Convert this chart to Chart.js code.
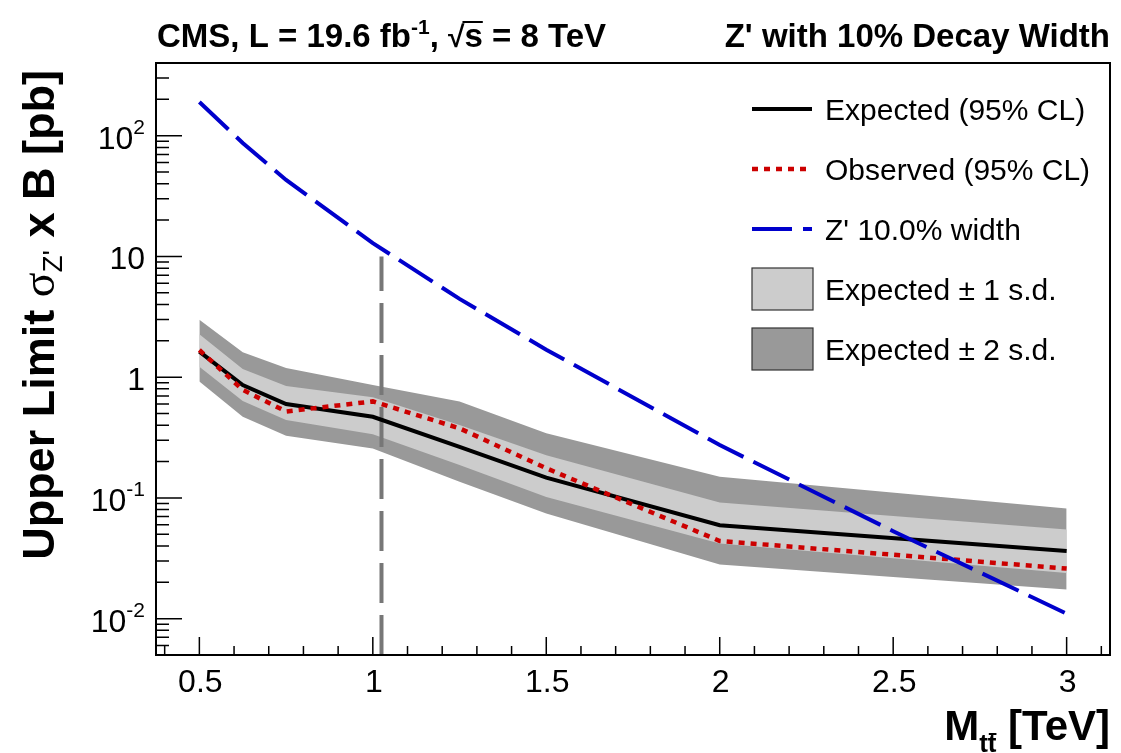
<!DOCTYPE html>
<html>
<head>
<meta charset="utf-8">
<script src="https://cdn.jsdelivr.net/npm/chart.js@4.4.0/dist/chart.umd.min.js"></script>
<style>
  body { margin: 0; background: #fff; }
  #wrap { width: 1121px; height: 753px; }
</style>
</head>
<body>
<div id="wrap"><canvas id="limitChart" width="1121" height="753"></canvas></div>
<script>
// mass points (TeV) and limits (pb)
var masses   = [0.5, 0.625, 0.75, 1.0, 1.25, 1.5, 2.0, 3.0];
var expected = [1.63, 0.86, 0.60, 0.47, 0.265, 0.147, 0.0594, 0.0364];
var observed = [1.68, 0.785, 0.52, 0.63, 0.377, 0.176, 0.044, 0.026];
var band1Lo  = [1.22, 0.636, 0.442, 0.336, 0.187, 0.102, 0.0419, 0.0239];
var band1Hi  = [2.27, 1.17, 0.847, 0.683, 0.402, 0.226, 0.0918, 0.0548];
var band2Lo  = [0.92, 0.471, 0.328, 0.257, 0.136, 0.0743, 0.0281, 0.0174];
var band2Hi  = [2.99, 1.61, 1.19, 0.863, 0.628, 0.343, 0.150, 0.0818];

// Z' 10% width theory cross section
var zpMasses = [0.5, 0.625, 0.75, 1.0, 1.25, 1.5, 2.0, 2.5, 3.0];
var zpXsec   = [190, 87, 43, 12.9, 4.45, 1.69, 0.274, 0.053, 0.011];

// exclusion marker
var limitMass = 1.025;
var limitTop = 10;

var xMin = 0.375, xMax = 3.125;
var yMin = 0.005, yMax = 400;

var xTickValues = [0.5, 1, 1.5, 2, 2.5, 3];
var xTickLabels = ['0.5', '1', '1.5', '2', '2.5', '3'];
var yTickValues = [0.01, 0.1, 1, 10, 100];
var yTickBase   = ['10', '10', '1', '10', '10'];
var yTickExp    = ['-2', '-1', '', '', '2'];

var legendLabels = ['Expected (95% CL)', 'Observed (95% CL)', "Z' 10.0% width",
                    'Expected \u00b1 1 s.d.', 'Expected \u00b1 2 s.d.'];

function pts(xs, ys) {
    return xs.map(function (x, i) { return { x: x, y: ys[i] }; });
}

var SANS = '"Liberation Sans", Arial, Helvetica, sans-serif';
var SERIF = '"Liberation Serif", "Times New Roman", serif';

function drawParts(ctx, parts, x, y, align) {
    var w = 0;
    parts.forEach(function (p) {
        ctx.font = p.font;
        p.w = ctx.measureText(p.t).width;
        w += p.w;
    });
    var cx = align === 'right' ? x - w : (align === 'center' ? x - w / 2 : x);
    parts.forEach(function (p) {
        ctx.font = p.font;
        ctx.fillText(p.t, cx, y + (p.dy || 0));
        p.x = cx;
        cx += p.w;
    });
    return parts;
}

var decorations = {
    id: 'decorations',
    afterDraw: function (chart) {
        var ctx = chart.ctx, a = chart.chartArea;
        var xs = chart.scales.x, ys = chart.scales.y;
        ctx.save();
        ctx.fillStyle = '#000';
        ctx.strokeStyle = '#000';
        ctx.textBaseline = 'alphabetic';
        ctx.textAlign = 'left';

        // frame
        ctx.lineWidth = 2;
        ctx.strokeRect(a.left, a.top, a.right - a.left, a.bottom - a.top);

        // ticks
        ctx.lineWidth = 1.5;
        ctx.beginPath();
        for (var i = 4; i <= 31; i++) {
            var px = xs.getPixelForValue(i / 10);
            var len = (i % 5 === 0) ? 18 : 9;
            ctx.moveTo(px, a.bottom);
            ctx.lineTo(px, a.bottom - len);
        }
        for (var e = -3; e <= 2; e++) {
            for (var k = 1; k <= 9; k++) {
                var v = k * Math.pow(10, e);
                if (v <= yMin * 1.001 || v >= yMax * 0.999) continue;
                var py = ys.getPixelForValue(v);
                var l2 = k === 1 ? 26 : 13;
                ctx.moveTo(a.left, py);
                ctx.lineTo(a.left + l2, py);
            }
        }
        ctx.stroke();

        // tick labels
        ctx.font = '32px ' + SANS;
        ctx.textAlign = 'center';
        xTickValues.forEach(function (v, i) {
            ctx.fillText(xTickLabels[i], xs.getPixelForValue(v) + 1, a.bottom + 37);
        });
        ctx.textAlign = 'left';
        yTickValues.forEach(function (v, i) {
            var py = ys.getPixelForValue(v) + 13;
            var parts = [{ t: yTickBase[i], font: '32px ' + SANS }];
            if (yTickExp[i]) parts.push({ t: yTickExp[i], font: '21px ' + SANS, dy: -15 });
            drawParts(ctx, parts, a.left - 11, py, 'right');
        });

        // top titles
        var tp = drawParts(ctx, [
            { t: 'CMS, L = 19.6 fb', font: 'bold 33px ' + SANS },
            { t: '-1', font: 'bold 21px ' + SANS, dy: -13 },
            { t: ', ', font: 'bold 33px ' + SANS },
            { t: '\u221a', font: 'bold 30px ' + SANS },
            { t: 's', font: 'bold 33px ' + SANS },
            { t: ' = 8 TeV', font: 'bold 33px ' + SANS }
        ], a.left + 1, 47, 'left');
        ctx.lineWidth = 2;
        ctx.beginPath();
        ctx.moveTo(tp[3].x + tp[3].w - 2, 22);
        ctx.lineTo(tp[4].x + tp[4].w, 22);
        ctx.stroke();

        drawParts(ctx, [{ t: "Z' with 10% Decay Width", font: 'bold 33px ' + SANS }], a.right, 47, 'right');

        // x title
        var xt = drawParts(ctx, [
            { t: 'M', font: 'bold 42px ' + SANS },
            { t: 'tt', font: 'bold 26px ' + SANS, dy: 12 },
            { t: ' [TeV]', font: 'bold 42px ' + SANS }
        ], a.right, 740, 'right');
        ctx.font = 'bold 26px ' + SANS;
        var tw = ctx.measureText('t').width;
        ctx.lineWidth = 2;
        ctx.beginPath();
        ctx.moveTo(xt[1].x + tw + 1, 734);
        ctx.lineTo(xt[1].x + 2 * tw, 734);
        ctx.stroke();

        // y title
        ctx.save();
        ctx.translate(54, 315);
        ctx.rotate(-Math.PI / 2);
        drawParts(ctx, [
            { t: 'Upper Limit ', font: 'bold 45px ' + SANS },
            { t: '\u03c3', font: '46px ' + SERIF },
            { t: "Z'", font: '28px ' + SANS, dy: 8 },
            { t: ' x B [pb]', font: 'bold 45px ' + SANS }
        ], 0, 0, 'center');
        ctx.restore();

        // legend
        var ds = chart.data.datasets;
        var lx0 = 752, lx1 = 812, tx = 825;
        var rows = [109, 169, 229, 289, 349];
        var lineSets = [ds[5], ds[6], ds[7]];
        ctx.font = '30px ' + SANS;
        ctx.textAlign = 'left';
        lineSets.forEach(function (d, i) {
            ctx.save();
            ctx.strokeStyle = d.borderColor;
            ctx.lineWidth = d.borderWidth;
            ctx.setLineDash(d.borderDash || []);
            ctx.beginPath();
            ctx.moveTo(lx0, rows[i]);
            ctx.lineTo(lx1, rows[i]);
            ctx.stroke();
            ctx.restore();
        });
        var boxSets = [ds[3], ds[1]];
        boxSets.forEach(function (d, j) {
            var cy = rows[3 + j];
            ctx.fillStyle = d.backgroundColor;
            ctx.fillRect(lx0, cy - 21, lx1 - lx0 + 1, 42);
            ctx.strokeStyle = '#333';
            ctx.lineWidth = 1.2;
            ctx.strokeRect(lx0, cy - 21, lx1 - lx0 + 1, 42);
        });
        ctx.fillStyle = '#000';
        legendLabels.forEach(function (t, i) {
            ctx.fillText(t, tx, rows[i] + 11);
        });

        ctx.restore();
    }
};

var noLine = { borderWidth: 0, borderColor: 'rgba(0,0,0,0)', pointRadius: 0, tension: 0 };

new Chart(document.getElementById('limitChart'), {
    type: 'line',
    data: {
        datasets: [
            Object.assign({ data: pts(masses, band2Lo), fill: false, order: 10 }, noLine),
            Object.assign({ data: pts(masses, band2Hi), fill: 0, backgroundColor: '#999999', order: 10 }, noLine),
            Object.assign({ data: pts(masses, band1Lo), fill: false, order: 9 }, noLine),
            Object.assign({ data: pts(masses, band1Hi), fill: 2, backgroundColor: '#cccccc', order: 9 }, noLine),
            {
                data: [{ x: limitMass, y: yMin }, { x: limitMass, y: limitTop }],
                borderColor: '#777777', borderWidth: 4, borderDash: [40, 12],
                pointRadius: 0, fill: false, order: 5
            },
            {
                data: pts(masses, expected),
                borderColor: '#000000', borderWidth: 4, pointRadius: 0, tension: 0, fill: false, order: 4
            },
            {
                data: pts(masses, observed),
                borderColor: '#cc0000', borderWidth: 4.5, borderDash: [6, 6],
                pointRadius: 0, tension: 0, fill: false, order: 3
            },
            {
                data: pts(zpMasses, zpXsec),
                borderColor: '#0000cc', borderWidth: 4, borderDash: [40, 11],
                pointRadius: 0, tension: 0, fill: false, order: 2
            }
        ]
    },
    options: {
        responsive: false,
        animation: false,
        layout: { padding: { left: 156, right: 11, top: 63, bottom: 98 } },
        plugins: { legend: { display: false }, tooltip: { enabled: false } },
        scales: {
            x: { type: 'linear', min: xMin, max: xMax, display: false },
            y: { type: 'logarithmic', min: yMin, max: yMax, display: false }
        }
    },
    plugins: [decorations]
});
</script>
</body>
</html>
